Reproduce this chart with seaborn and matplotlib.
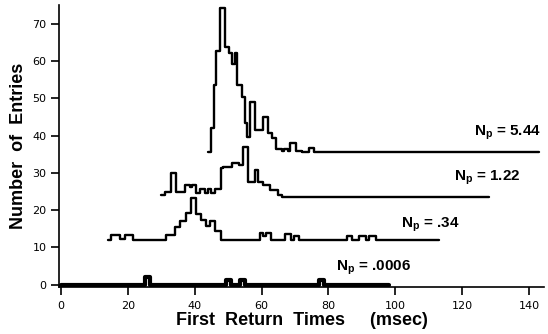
import numpy as np
import pandas as pd
import matplotlib
matplotlib.use("Agg")
import matplotlib.pyplot as plt
import seaborn as sns

# ---- data ----
# N_p = 5.44 (offset baseline)
a_offset = 35.5
a_x = [43.9, 44.8, 45.8, 46.4, 47.7, 49.2, 50.4, 51.2, 52.0, 52.8, 54.0, 55.0, 55.7,
       56.4, 57.9, 60.4, 62.0, 63.0, 64.4, 66.0, 66.8, 67.8, 68.4, 70.4, 72.0, 74.3,
       75.8, 143.0]
a_h = [0, 6.5, 18, 27.3, 38.7, 28.2, 26.5, 23.8, 26.5, 18, 14.8, 7.8, 4.2,
       13.5, 6.1, 9.5, 5.1, 3.8, 1.0, 0.3, 1.0, 0.3, 2.5, 0.3, 0, 1.1,
       0, 0]

# N_p = 1.22
b_offset = 23.6
b_x = [30.0, 31.0, 33.0, 34.5, 37.0, 38.5, 39.3, 40.3, 41.5, 43.0, 44.0, 45.0, 46.0,
       48.0, 48.5, 51.3, 53.4, 54.3, 55.8, 58.0, 59.0, 60.5, 62.4, 64.8, 66.0, 128.0]
b_h = [0.5, 1.4, 6.4, 1.4, 3.1, 2.5, 3.1, 1.0, 2.1, 1.0, 2.1, 1.0, 2.1,
       7.7, 8.0, 9.0, 8.4, 13.4, 4.0, 7.1, 4.0, 3.1, 1.8, 0.4, 0, 0]

# N_p = .34
c_offset = 12.0
c_x = [14.1, 15.1, 17.6, 19.1, 21.6, 31.5, 34.0, 35.5, 37.5, 39.0, 40.5, 42.0, 43.5,
       44.5, 46.0, 48.0, 59.4, 60.5, 61.4, 62.9, 66.9, 68.9, 69.8, 71.3, 85.7, 87.2,
       89.3, 91.3, 92.2, 94.3, 113.1]
c_h = [0, 1.3, 0.4, 1.3, 0, 1.4, 3.4, 5.0, 7.2, 11.2, 7.0, 5.4, 3.8,
       5.2, 2.3, 0, 1.8, 1.0, 1.8, 0, 1.7, 0, 1.0, 0, 1.0, 0,
       1.0, 0, 1.0, 0, 0]

# N_p = .0006
d_offset = 0.0
d_x = [0.0, 25.0, 26.5, 49.5, 51.0, 53.5, 55.0, 77.3, 78.8, 98.2]
d_h = [0, 2.2, 0, 1.3, 0, 1.3, 0, 1.3, 0, 0]

labels = [r"$\mathbf{N_p}$ = 5.44", r"$\mathbf{N_p}$ = 1.22",
          r"$\mathbf{N_p}$ = .34", r"$\mathbf{N_p}$ = .0006"]
label_x = [123.5, 117.6, 101.7, 82.3]
label_y = [40.6, 28.6, 16.0, 4.5]

x_ticks = [0, 20, 40, 60, 80, 100, 120, 140]
y_ticks = [0, 10, 20, 30, 40, 50, 60, 70]

# ---- plotting ----
sns.set_theme(style="ticks")
plt.rcParams["font.family"] = ["Liberation Sans", "DejaVu Sans"]
plt.rcParams["mathtext.fontset"] = "custom"
plt.rcParams["mathtext.bf"] = "Liberation Sans:bold"
plt.rcParams["mathtext.rm"] = "Liberation Sans"
plt.rcParams["text.color"] = "black"
plt.rcParams["axes.labelcolor"] = "black"
plt.rcParams["xtick.color"] = "black"
plt.rcParams["ytick.color"] = "black"
plt.rcParams["axes.edgecolor"] = "black"

fig = plt.figure(figsize=(5.48, 3.34), dpi=100)
ax = fig.add_axes([59 / 548, 1 - 287 / 334, (544 - 59) / 548, (287 - 5) / 334])

series = [(a_x, a_h, a_offset, 1.7), (b_x, b_h, b_offset, 1.7),
          (c_x, c_h, c_offset, 1.7), (d_x, d_h, d_offset, 3.0)]
for xs, hs, off, lw in series:
    df = pd.DataFrame({"x": xs, "y": np.array(hs) + off})
    sns.lineplot(data=df, x="x", y="y", ax=ax, color="black", lw=lw,
                 drawstyle="steps-post", estimator=None, sort=False)

for t, lx, ly in zip(labels, label_x, label_y):
    ax.text(lx, ly, t, fontsize=11, fontweight="bold", ha="left", va="center",
            color="black", clip_on=False)

ax.set_xlim(-0.6, 144.5)
ax.set_ylim(-0.6, 75)
ax.spines["top"].set_visible(False)
ax.spines["right"].set_visible(False)
ax.spines["left"].set_linewidth(1.2)
ax.spines["bottom"].set_linewidth(1.2)
ax.spines["bottom"].set_position(("data", -0.5))
ax.set_xticks(x_ticks)
ax.set_yticks(y_ticks)
ax.set_xticklabels([str(v) for v in x_ticks], family="DejaVu Sans", fontsize=8)
ax.set_yticklabels([str(v) for v in y_ticks], family="DejaVu Sans", fontsize=8)
ax.tick_params(axis="both", direction="out", length=6, width=1.2, color="black",
               labelcolor="black")
ax.tick_params(axis="x", pad=4)
ax.tick_params(axis="y", pad=3)
ax.set_xlabel("First  Return  Times     (msec)", fontsize=13, fontweight="bold",
              labelpad=1, color="black")
ax.set_ylabel("Number  of  Entries", fontsize=13, fontweight="bold", labelpad=4,
              color="black")
ax.set_facecolor("white")
fig.patch.set_facecolor("white")

fig.savefig("out.png", dpi=100, facecolor="white")
